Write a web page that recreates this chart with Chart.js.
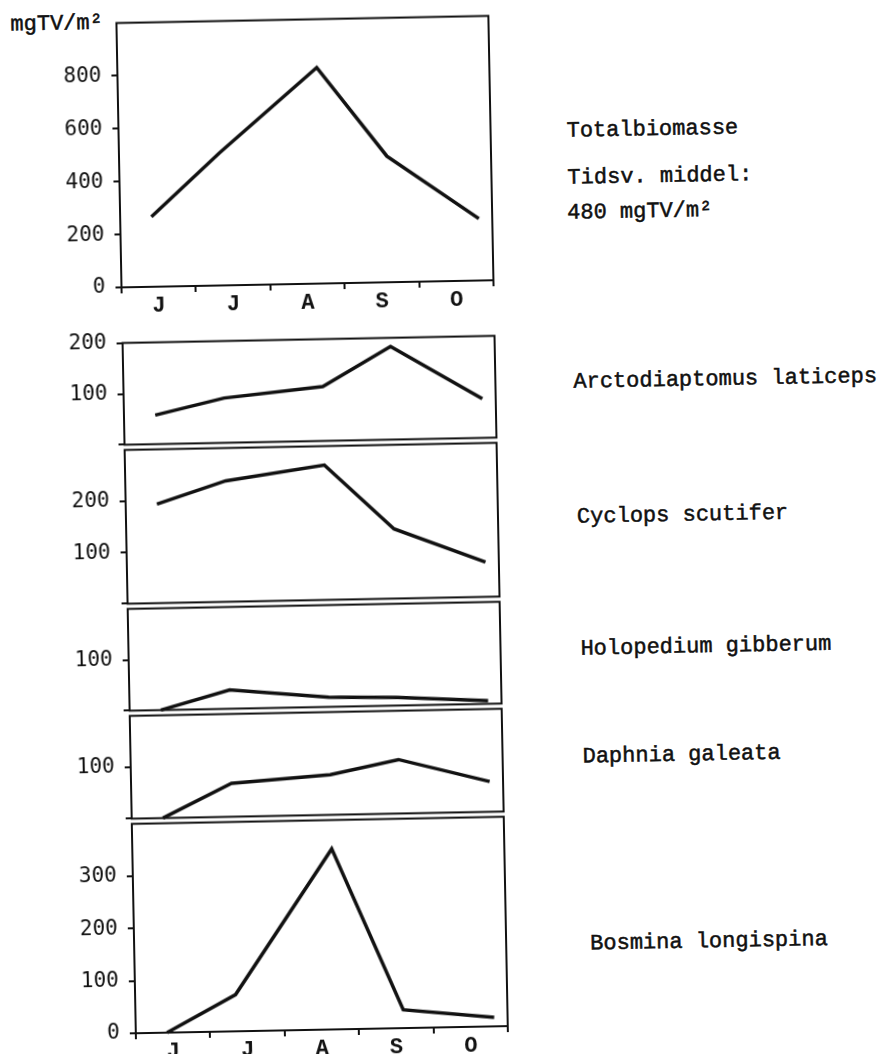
<!DOCTYPE html>
<html>
<head>
<meta charset="utf-8">
<script src="https://cdn.jsdelivr.net/npm/chart.js@4.4.0/dist/chart.umd.min.js"></script>
<style>
  body { margin: 0; background: #fff; width: 884px; height: 1054px; overflow: hidden; }
  #fig { position: absolute; left: 0; top: 0; width: 884px; height: 1054px;
         transform: rotate(-1.1deg); transform-origin: 300px 520px; }
  #fig canvas { position: absolute; left: 0; }
  .lbl { position: absolute; font-family: 'Liberation Mono', monospace; font-size: 22px;
         line-height: 24px; color: #111; white-space: nowrap;
         -webkit-text-stroke: 0.5px #111; }
</style>
</head>
<body>
<div id="fig">
  <div class="lbl" style="left:20px; top:8px">mgTV/m²</div>
  <div class="lbl" style="left:574px; top:125px">Totalbiomasse</div>
  <div class="lbl" style="left:574px; top:172px">Tidsv. middel:</div>
  <div class="lbl" style="left:573px; top:207px">480 mgTV/m²</div>
  <div class="lbl" style="left:576px; top:376px">Arctodiaptomus laticeps</div>
  <div class="lbl" style="left:577px; top:511px">Cyclops scutifer</div>
  <div class="lbl" style="left:578px; top:643px">Holopedium gibberum</div>
  <div class="lbl" style="left:578px; top:751px">Daphnia galeata</div>
  <div class="lbl" style="left:582px; top:938px">Bosmina longispina</div>
</div>
<script>
// months on the x axis, samples given as months after 1 June
const months = ['J', 'J', 'A', 'S', 'O'];
const sampleMonth = [0.42, 1.35, 2.68, 3.6, 4.82];

// mgTV/m2
const totalBiomass = [265, 501, 817, 477, 234];
const arctodiaptomus = [57, 88, 107, 183, 77];
const cyclops = [193, 236, 263, 136, 68];
const holopedium = [0, 37, 19, 16, 6];
const daphnia = [0, 65, 78, 105, 59];
const bosmina = [0, 70, 345, 35, 17];

// labelled y ticks per panel
const totalTicks = [0, 200, 400, 600, 800];
const arctoTicks = [100, 200];
const cyclopsTicks = [100, 200];
const holoTicks = [100];
const daphniaTicks = [100];
const bosminaTicks = [0, 100, 200, 300];

const ink = '#111';
const fig = document.getElementById('fig');

const panels = [
  { values: totalBiomass, max: 1000, ticks: totalTicks, top: 17, bottom: 284, months: true },
  { values: arctodiaptomus, max: 200, ticks: arctoTicks, top: 337, bottom: 444 },
  { values: cyclops, max: 300, ticks: cyclopsTicks, top: 444, bottom: 603 },
  { values: holopedium, max: 200, ticks: holoTicks, top: 603, bottom: 710 },
  { values: daphnia, max: 200, ticks: daphniaTicks, top: 710, bottom: 818 },
  { values: bosmina, max: 400, ticks: bosminaTicks, top: 818, bottom: 1030, months: true }
];

// frame round each plot
const boxPlugin = {
  id: 'box',
  afterDatasetsDraw(chart) {
    const { ctx, chartArea: a } = chart;
    ctx.save();
    ctx.strokeStyle = ink;
    ctx.lineWidth = 2;
    ctx.strokeRect(a.left, a.top, a.right - a.left, a.bottom - a.top);
    ctx.restore();
  }
};

panels.forEach(p => {
  const padTop = 20;
  const padBottom = p.months ? 46 : 20;
  const canvas = document.createElement('canvas');
  canvas.width = 540;
  canvas.height = p.bottom - p.top + padTop + padBottom;
  canvas.style.top = (p.top - padTop) + 'px';
  fig.appendChild(canvas);

  const marks = p.ticks.includes(0) ? p.ticks : [0].concat(p.ticks);

  const scales = {
    x: { type: 'linear', display: false, min: 0, max: 5 },
    y: {
      type: 'linear', min: 0, max: p.max,
      afterBuildTicks: ax => { ax.ticks = marks.map(v => ({ value: v })); },
      afterFit: ax => { ax.width = 126; },
      grid: { drawOnChartArea: false, tickLength: 6, lineWidth: 2, color: ink },
      border: { width: 2, color: ink },
      ticks: {
        color: ink, padding: 10,
        font: { family: 'DejaVu Sans Mono', size: 21 },
        callback: v => p.ticks.includes(v) ? v : ''
      }
    }
  };
  if (p.months) {
    scales.m = {
      type: 'category', labels: months, position: 'bottom', offset: true,
      afterFit: ax => { ax.height = padBottom; },
      grid: { offset: true, drawOnChartArea: false, tickLength: 6, lineWidth: 2, color: ink },
      border: { width: 2, color: ink },
      ticks: {
        color: ink, padding: 0, maxRotation: 0, autoSkip: false,
        font: { family: 'Liberation Mono', size: 22, weight: 'bold' }
      }
    };
  }

  new Chart(canvas, {
    type: 'line',
    data: {
      datasets: [{
        data: sampleMonth.map((m, i) => ({ x: m, y: p.values[i] })),
        xAxisID: 'x', yAxisID: 'y',
        borderColor: ink, borderWidth: 3.5, pointRadius: 0,
        tension: 0, clip: false
      }]
    },
    options: {
      responsive: false,
      animation: false,
      layout: { padding: { top: padTop, right: 42, bottom: p.months ? 0 : padBottom, left: 0 } },
      plugins: { legend: { display: false }, tooltip: { enabled: false } },
      scales: scales
    },
    plugins: [boxPlugin]
  });
});
</script>
</body>
</html>
